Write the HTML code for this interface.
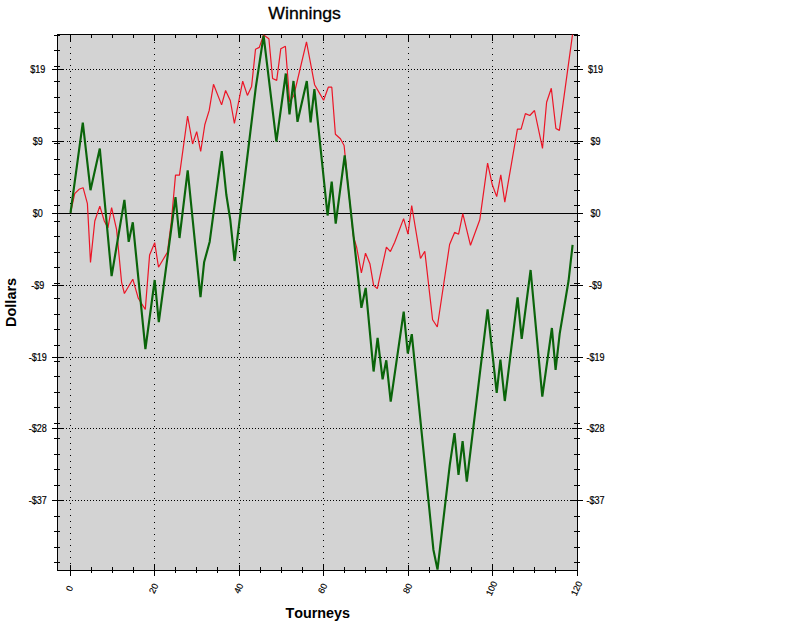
<!DOCTYPE html>
<html><head><meta charset="utf-8"><title>Winnings</title>
<style>html,body{margin:0;padding:0;background:#fff}body{width:788px;height:628px;overflow:hidden;font-family:"Liberation Sans",sans-serif}svg{display:block}text{font-family:"Liberation Sans",sans-serif;fill:#000;font-kerning:none}</style></head><body>
<svg width="788" height="628" viewBox="0 0 788 628">
<rect x="0" y="0" width="788" height="628" fill="#fff"/>
<rect x="57" y="34" width="521" height="537" fill="#d3d3d3"/>
<g shape-rendering="crispEdges" stroke="#000" stroke-width="1" fill="none">
<line x1="57" y1="69.5" x2="578" y2="69.5" stroke-dasharray="1 2"/>
<line x1="61" y1="141.5" x2="578" y2="141.5" stroke-dasharray="1 1 1 3"/>
<line x1="57" y1="213.5" x2="578" y2="213.5"/>
<line x1="57" y1="285.5" x2="578" y2="285.5" stroke-dasharray="1 2"/>
<line x1="57" y1="357.5" x2="578" y2="357.5" stroke-dasharray="1 2"/>
<line x1="57" y1="428.5" x2="578" y2="428.5" stroke-dasharray="1 2"/>
<line x1="57" y1="500.5" x2="578" y2="500.5" stroke-dasharray="1 2"/>
<line x1="70.5" y1="35" x2="70.5" y2="570" stroke-dasharray="1 5"/>
<line x1="154.5" y1="36" x2="154.5" y2="570" stroke-dasharray="1 5"/>
<line x1="239.5" y1="35" x2="239.5" y2="570" stroke-dasharray="1 5"/>
<line x1="323.5" y1="36" x2="323.5" y2="570" stroke-dasharray="1 5"/>
<line x1="408.5" y1="35" x2="408.5" y2="570" stroke-dasharray="1 5"/>
<line x1="492.5" y1="36" x2="492.5" y2="570" stroke-dasharray="1 5"/>
<rect x="57.5" y="34.5" width="520" height="536"/>
<line x1="52" y1="69.5" x2="64" y2="69.5"/>
<line x1="570" y1="69.5" x2="583" y2="69.5"/>
<line x1="52" y1="141.5" x2="64" y2="141.5"/>
<line x1="570" y1="141.5" x2="583" y2="141.5"/>
<line x1="52" y1="213.5" x2="64" y2="213.5"/>
<line x1="570" y1="213.5" x2="583" y2="213.5"/>
<line x1="52" y1="285.5" x2="64" y2="285.5"/>
<line x1="570" y1="285.5" x2="583" y2="285.5"/>
<line x1="52" y1="357.5" x2="64" y2="357.5"/>
<line x1="570" y1="357.5" x2="583" y2="357.5"/>
<line x1="52" y1="428.5" x2="64" y2="428.5"/>
<line x1="572" y1="428.5" x2="582" y2="428.5"/>
<line x1="570" y1="428.5" x2="571" y2="428.5"/>
<line x1="52" y1="500.5" x2="64" y2="500.5"/>
<line x1="570" y1="500.5" x2="583" y2="500.5"/>
<line x1="54" y1="35.5" x2="60" y2="35.5"/>
<line x1="574" y1="35.5" x2="580" y2="35.5"/>
<line x1="54" y1="50.5" x2="60" y2="50.5"/>
<line x1="574" y1="50.5" x2="580" y2="50.5"/>
<line x1="54" y1="66.5" x2="60" y2="66.5"/>
<line x1="574" y1="66.5" x2="580" y2="66.5"/>
<line x1="54" y1="81.5" x2="60" y2="81.5"/>
<line x1="574" y1="81.5" x2="580" y2="81.5"/>
<line x1="54" y1="97.5" x2="60" y2="97.5"/>
<line x1="574" y1="97.5" x2="580" y2="97.5"/>
<line x1="54" y1="112.5" x2="60" y2="112.5"/>
<line x1="574" y1="112.5" x2="580" y2="112.5"/>
<line x1="54" y1="128.5" x2="60" y2="128.5"/>
<line x1="574" y1="128.5" x2="580" y2="128.5"/>
<line x1="54" y1="143.5" x2="60" y2="143.5"/>
<line x1="574" y1="143.5" x2="580" y2="143.5"/>
<line x1="54" y1="159.5" x2="60" y2="159.5"/>
<line x1="574" y1="159.5" x2="580" y2="159.5"/>
<line x1="54" y1="174.5" x2="60" y2="174.5"/>
<line x1="574" y1="174.5" x2="580" y2="174.5"/>
<line x1="54" y1="190.5" x2="60" y2="190.5"/>
<line x1="574" y1="190.5" x2="580" y2="190.5"/>
<line x1="54" y1="205.5" x2="60" y2="205.5"/>
<line x1="574" y1="205.5" x2="580" y2="205.5"/>
<line x1="54" y1="221.5" x2="60" y2="221.5"/>
<line x1="574" y1="221.5" x2="580" y2="221.5"/>
<line x1="54" y1="236.5" x2="60" y2="236.5"/>
<line x1="574" y1="236.5" x2="580" y2="236.5"/>
<line x1="54" y1="252.5" x2="60" y2="252.5"/>
<line x1="574" y1="252.5" x2="580" y2="252.5"/>
<line x1="54" y1="267.5" x2="60" y2="267.5"/>
<line x1="574" y1="267.5" x2="580" y2="267.5"/>
<line x1="54" y1="283.5" x2="60" y2="283.5"/>
<line x1="574" y1="283.5" x2="580" y2="283.5"/>
<line x1="54" y1="298.5" x2="60" y2="298.5"/>
<line x1="574" y1="298.5" x2="580" y2="298.5"/>
<line x1="54" y1="314.5" x2="60" y2="314.5"/>
<line x1="574" y1="314.5" x2="580" y2="314.5"/>
<line x1="54" y1="329.5" x2="60" y2="329.5"/>
<line x1="574" y1="329.5" x2="580" y2="329.5"/>
<line x1="54" y1="345.5" x2="60" y2="345.5"/>
<line x1="574" y1="345.5" x2="580" y2="345.5"/>
<line x1="54" y1="361.5" x2="60" y2="361.5"/>
<line x1="574" y1="361.5" x2="580" y2="361.5"/>
<line x1="54" y1="376.5" x2="60" y2="376.5"/>
<line x1="574" y1="376.5" x2="580" y2="376.5"/>
<line x1="54" y1="392.5" x2="60" y2="392.5"/>
<line x1="574" y1="392.5" x2="580" y2="392.5"/>
<line x1="54" y1="407.5" x2="60" y2="407.5"/>
<line x1="574" y1="407.5" x2="580" y2="407.5"/>
<line x1="54" y1="423.5" x2="60" y2="423.5"/>
<line x1="574" y1="423.5" x2="580" y2="423.5"/>
<line x1="54" y1="438.5" x2="60" y2="438.5"/>
<line x1="574" y1="438.5" x2="580" y2="438.5"/>
<line x1="54" y1="454.5" x2="60" y2="454.5"/>
<line x1="574" y1="454.5" x2="580" y2="454.5"/>
<line x1="54" y1="469.5" x2="60" y2="469.5"/>
<line x1="574" y1="469.5" x2="580" y2="469.5"/>
<line x1="54" y1="485.5" x2="60" y2="485.5"/>
<line x1="574" y1="485.5" x2="580" y2="485.5"/>
<line x1="54" y1="500.5" x2="60" y2="500.5"/>
<line x1="574" y1="500.5" x2="580" y2="500.5"/>
<line x1="54" y1="516.5" x2="60" y2="516.5"/>
<line x1="574" y1="516.5" x2="580" y2="516.5"/>
<line x1="54" y1="531.5" x2="60" y2="531.5"/>
<line x1="574" y1="531.5" x2="580" y2="531.5"/>
<line x1="54" y1="547.5" x2="60" y2="547.5"/>
<line x1="574" y1="547.5" x2="580" y2="547.5"/>
<line x1="54" y1="562.5" x2="60" y2="562.5"/>
<line x1="574" y1="562.5" x2="580" y2="562.5"/>
<line x1="70.5" y1="565" x2="70.5" y2="576"/>
<line x1="70.5" y1="34" x2="70.5" y2="41"/>
<line x1="154.5" y1="565" x2="154.5" y2="576"/>
<line x1="154.5" y1="34" x2="154.5" y2="41"/>
<line x1="239.5" y1="565" x2="239.5" y2="576"/>
<line x1="239.5" y1="34" x2="239.5" y2="41"/>
<line x1="323.5" y1="565" x2="323.5" y2="576"/>
<line x1="323.5" y1="34" x2="323.5" y2="41"/>
<line x1="408.5" y1="565" x2="408.5" y2="576"/>
<line x1="408.5" y1="34" x2="408.5" y2="41"/>
<line x1="492.5" y1="565" x2="492.5" y2="576"/>
<line x1="492.5" y1="34" x2="492.5" y2="41"/>
<line x1="577.5" y1="565" x2="577.5" y2="576"/>
<line x1="577.5" y1="34" x2="577.5" y2="41"/>
<line x1="91.5" y1="567" x2="91.5" y2="573"/>
<line x1="91.5" y1="34" x2="91.5" y2="38"/>
<line x1="112.5" y1="567" x2="112.5" y2="573"/>
<line x1="112.5" y1="34" x2="112.5" y2="38"/>
<line x1="133.5" y1="567" x2="133.5" y2="573"/>
<line x1="133.5" y1="34" x2="133.5" y2="38"/>
<line x1="175.5" y1="567" x2="175.5" y2="573"/>
<line x1="175.5" y1="34" x2="175.5" y2="38"/>
<line x1="196.5" y1="567" x2="196.5" y2="573"/>
<line x1="196.5" y1="34" x2="196.5" y2="38"/>
<line x1="217.5" y1="567" x2="217.5" y2="573"/>
<line x1="217.5" y1="34" x2="217.5" y2="38"/>
<line x1="260.5" y1="567" x2="260.5" y2="573"/>
<line x1="260.5" y1="34" x2="260.5" y2="38"/>
<line x1="281.5" y1="567" x2="281.5" y2="573"/>
<line x1="281.5" y1="34" x2="281.5" y2="38"/>
<line x1="302.5" y1="567" x2="302.5" y2="573"/>
<line x1="302.5" y1="34" x2="302.5" y2="38"/>
<line x1="344.5" y1="567" x2="344.5" y2="573"/>
<line x1="344.5" y1="34" x2="344.5" y2="38"/>
<line x1="365.5" y1="567" x2="365.5" y2="573"/>
<line x1="365.5" y1="34" x2="365.5" y2="38"/>
<line x1="386.5" y1="567" x2="386.5" y2="573"/>
<line x1="386.5" y1="34" x2="386.5" y2="38"/>
<line x1="429.5" y1="567" x2="429.5" y2="573"/>
<line x1="429.5" y1="34" x2="429.5" y2="38"/>
<line x1="450.5" y1="567" x2="450.5" y2="573"/>
<line x1="450.5" y1="34" x2="450.5" y2="38"/>
<line x1="471.5" y1="567" x2="471.5" y2="573"/>
<line x1="471.5" y1="34" x2="471.5" y2="38"/>
<line x1="513.5" y1="567" x2="513.5" y2="573"/>
<line x1="513.5" y1="34" x2="513.5" y2="38"/>
<line x1="534.5" y1="567" x2="534.5" y2="573"/>
<line x1="534.5" y1="34" x2="534.5" y2="38"/>
<line x1="555.5" y1="567" x2="555.5" y2="573"/>
<line x1="555.5" y1="34" x2="555.5" y2="38"/>
</g>
<clipPath id="c"><rect x="57" y="34" width="521" height="537"/></clipPath>
<g clip-path="url(#c)" fill="none" stroke-linejoin="bevel" stroke-linecap="butt">
<polyline points="70.5,213.0 74.7,193.7 79.0,189.3 83.1,187.7 87.4,203.6 90.5,262.4 94.8,221.0 99.8,206.1 104.3,221.0 107.9,227.9 111.6,207.6 116.6,229.7 121.6,282.3 124.4,293.5 132.8,279.2 138.3,298.3 145.3,309.5 149.6,254.9 154.7,242.7 158.5,267.2 167.4,252.3 171.3,222.0 175.5,175.1 179.5,175.1 187.6,116.0 192.6,144.0 196.7,131.6 200.7,151.5 204.8,124.8 209.2,110.4 213.5,84.3 221.6,104.9 225.6,90.5 230.3,100.5 234.4,123.5 242.7,81.2 247.4,95.4 251.6,86.4 255.5,49.3 259.3,47.4 263.6,35.0 268.9,38.7 272.6,78.5 276.7,80.4 280.8,48.7 285.4,46.2 289.7,102.0 293.8,95.5 306.5,41.8 314.6,84.7 319.6,93.4 323.6,100.3 328.3,87.2 331.8,87.2 335.4,134.3 340.4,138.7 344.1,145.5 349.0,194.5 353.3,236.0 356.6,247.2 361.4,273.0 365.5,253.2 369.9,263.7 373.6,285.4 377.3,288.6 386.4,247.2 390.4,251.6 394.7,242.2 403.6,218.6 408.0,234.2 411.7,205.5 420.5,258.5 424.8,251.2 432.6,319.7 437.3,327.0 449.6,244.5 454.6,232.4 458.6,234.2 462.8,213.6 470.5,245.3 479.8,219.8 487.6,163.1 492.3,184.8 496.7,196.6 500.8,174.9 504.8,202.2 517.4,129.2 521.1,129.2 525.4,113.6 529.8,115.5 534.5,110.5 542.5,148.4 546.6,102.2 551.3,88.3 555.9,128.5 559.4,130.4 572.5,34.6" stroke="#ec1526" stroke-width="1.2"/>
<polyline points="70.5,213.0 82.8,122.7 90.5,190.2 99.8,148.6 111.6,276.1 124.4,199.9 128.7,241.8 132.8,222.3 145.4,349.1 154.7,280.0 158.8,322.1 175.5,197.2 179.5,238.0 187.7,170.3 200.5,297.2 204.1,262.3 209.7,241.7 221.8,151.2 226.3,194.5 230.3,220.0 234.6,261.0 247.8,153.0 255.8,87.3 263.6,35.6 276.4,141.7 285.8,73.5 289.5,114.3 293.5,81.0 297.5,121.8 306.8,81.0 310.6,122.4 314.4,89.1 327.6,215.5 331.7,181.6 335.7,223.6 344.7,155.4 361.4,307.8 365.7,287.9 373.6,371.5 377.6,337.9 382.6,379.3 386.3,360.3 390.7,401.7 403.7,311.7 407.8,353.5 411.8,334.2 433.4,549.7 437.5,569.6 449.8,464.8 454.5,433.1 458.5,474.8 462.6,441.2 466.8,481.6 487.6,309.3 496.7,392.9 500.4,359.5 504.8,401.0 517.6,297.4 521.7,338.9 530.6,270.0 542.3,396.7 551.9,328.0 555.6,369.8 559.7,333.6 568.6,280.5 572.6,244.9" stroke="#0a640a" stroke-width="2.15"/>
</g>
<text x="268.3" y="18.6" font-size="16" textLength="72.6" lengthAdjust="spacingAndGlyphs" stroke="#000" stroke-width="0.3">Winnings</text>
<text x="285.4" y="617.7" font-size="14" font-weight="bold" textLength="64.6" lengthAdjust="spacingAndGlyphs">Tourneys</text>
<text transform="translate(16.1,327) rotate(-90)" font-size="14" font-weight="bold" textLength="49.2" lengthAdjust="spacingAndGlyphs">Dollars</text>
<text transform="translate(37.7,72.5) scale(0.87,1)" font-size="10.4" text-anchor="middle" stroke="#000" stroke-width="0.2">$19</text>
<text transform="translate(595.6,72.5) scale(0.87,1)" font-size="10.4" text-anchor="middle" stroke="#000" stroke-width="0.2">$19</text>
<text transform="translate(37.7,144.5) scale(0.87,1)" font-size="10.4" text-anchor="middle" stroke="#000" stroke-width="0.2">$9</text>
<text transform="translate(595.6,144.5) scale(0.87,1)" font-size="10.4" text-anchor="middle" stroke="#000" stroke-width="0.2">$9</text>
<text transform="translate(37.7,216.5) scale(0.87,1)" font-size="10.4" text-anchor="middle" stroke="#000" stroke-width="0.2">$0</text>
<text transform="translate(595.6,216.5) scale(0.87,1)" font-size="10.4" text-anchor="middle" stroke="#000" stroke-width="0.2">$0</text>
<text transform="translate(37.7,288.5) scale(0.87,1)" font-size="10.4" text-anchor="middle" stroke="#000" stroke-width="0.2">-$9</text>
<text transform="translate(595.6,288.5) scale(0.87,1)" font-size="10.4" text-anchor="middle" stroke="#000" stroke-width="0.2">-$9</text>
<text transform="translate(37.7,360.5) scale(0.87,1)" font-size="10.4" text-anchor="middle" stroke="#000" stroke-width="0.2">-$19</text>
<text transform="translate(595.6,360.5) scale(0.87,1)" font-size="10.4" text-anchor="middle" stroke="#000" stroke-width="0.2">-$19</text>
<text transform="translate(37.7,431.5) scale(0.87,1)" font-size="10.4" text-anchor="middle" stroke="#000" stroke-width="0.2">-$28</text>
<text transform="translate(595.6,431.5) scale(0.87,1)" font-size="10.4" text-anchor="middle" stroke="#000" stroke-width="0.2">-$28</text>
<text transform="translate(37.7,503.5) scale(0.87,1)" font-size="10.4" text-anchor="middle" stroke="#000" stroke-width="0.2">-$37</text>
<text transform="translate(595.6,503.5) scale(0.87,1)" font-size="10.4" text-anchor="middle" stroke="#000" stroke-width="0.2">-$37</text>
<text transform="translate(69.5,588.4) rotate(-65)" font-size="9" text-anchor="middle" dy="3.2" stroke="#000" stroke-width="0.15">0</text>
<text transform="translate(153.5,588.4) rotate(-65)" font-size="9" text-anchor="middle" dy="3.2" stroke="#000" stroke-width="0.15">20</text>
<text transform="translate(238.5,588.4) rotate(-65)" font-size="9" text-anchor="middle" dy="3.2" stroke="#000" stroke-width="0.15">40</text>
<text transform="translate(322.5,588.4) rotate(-65)" font-size="9" text-anchor="middle" dy="3.2" stroke="#000" stroke-width="0.15">60</text>
<text transform="translate(407.5,588.4) rotate(-65)" font-size="9" text-anchor="middle" dy="3.2" stroke="#000" stroke-width="0.15">80</text>
<text transform="translate(491.5,588.4) rotate(-65)" font-size="9" text-anchor="middle" dy="3.2" stroke="#000" stroke-width="0.15">100</text>
<text transform="translate(576.5,588.4) rotate(-65)" font-size="9" text-anchor="middle" dy="3.2" stroke="#000" stroke-width="0.15">120</text>
</svg></body></html>
